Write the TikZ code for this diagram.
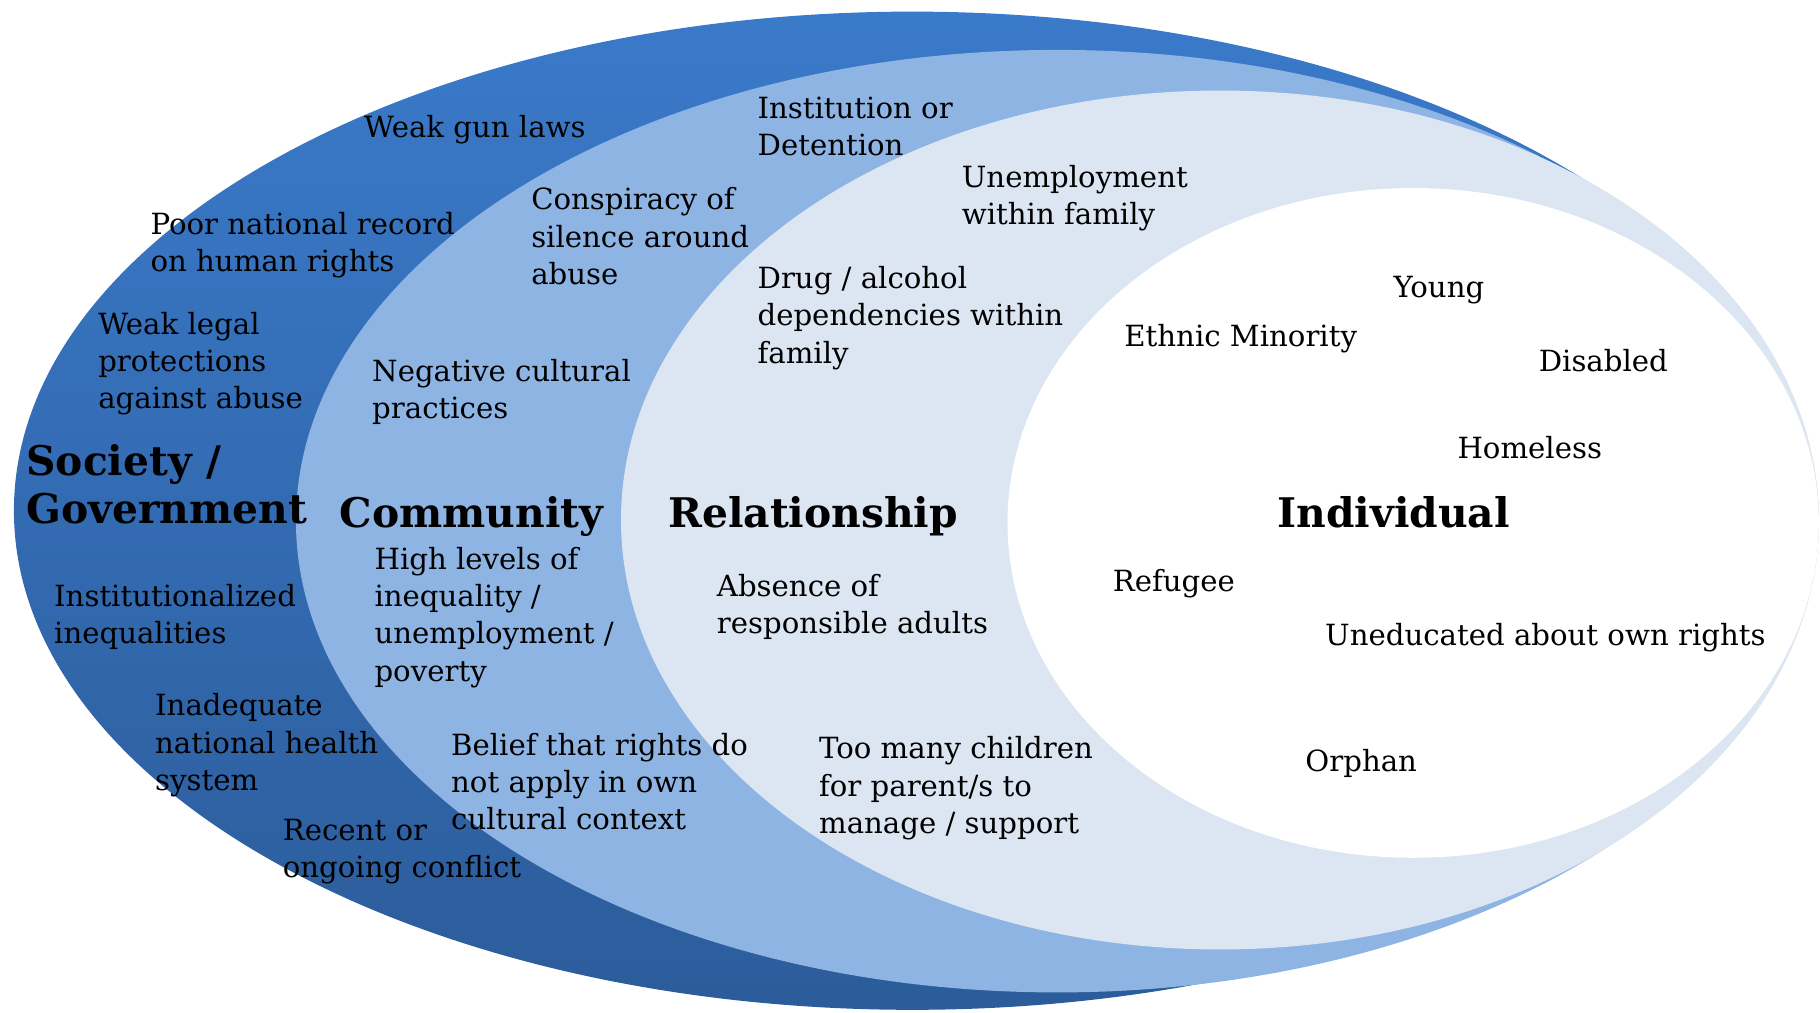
\documentclass[tikz,border=0pt]{standalone}
\usepackage{fontspec}
\setmainfont{DejaVu Serif}
\usepackage{tikz}

\definecolor{govtop}{RGB}{58,122,202}
\definecolor{govbot}{RGB}{44,92,154}
\definecolor{commblue}{RGB}{142,180,227}
\definecolor{relblue}{RGB}{220,230,242}

\tikzset{
  lbl/.style={anchor=north west, inner sep=0pt, align=left,
    font=\fontsize{7.15}{9.1}\selectfont},
  ttl/.style={anchor=north west, inner sep=0pt, align=left,
    font=\fontsize{10}{12.2}\selectfont\bfseries}
}

\begin{document}
\begin{tikzpicture}[x=0.01cm,y=-0.01cm]
\useasboundingbox (0,0) rectangle (1568,872);
\clip (0,0) rectangle (1568,872);
% the four levels
\shade[top color=govtop, bottom color=govbot] (786,440) ellipse [x radius=774, y radius=430];
\fill[commblue] (911,449) ellipse [x radius=656, y radius=406];
\fill[relblue] (1051,448) ellipse [x radius=516, y radius=370];
\fill[white] (1217.5,450.5) ellipse [x radius=349.5, y radius=288.5];
% level names
\node[ttl] (soc) at (22,382) {Society /\\[-0.4pt]Government};
\node[ttl] (com) at (292,427) {Community};
\node[ttl] (rel) at (575,427) {Relationship};
\node[ttl] (ind) at (1100,427) {Individual};
% society / government
\node[lbl] (gun) at (313,99) {Weak gun laws};
\node[lbl] (rec) at (129,182) {Poor national record\\on human rights};
\node[lbl] (leg) at (84,268) {Weak legal\\protections\\against abuse};
\node[lbl] (ineq) at (46,503) {Institutionalized\\inequalities};
\node[lbl] (hea) at (133,597) {Inadequate\\national health\\system};
\node[lbl] (con) at (243,705) {Recent or\\ongoing conflict};
% community
\node[lbl] (inst) at (652,83) {Institution or\\Detention};
\node[lbl] (sil) at (457,161) {Conspiracy of\\silence around\\abuse};
\node[lbl] (cul) at (320,309) {Negative cultural\\practices};
\node[lbl] (pov) at (322,471) {High levels of\\inequality /\\unemployment /\\poverty};
\node[lbl] (bel) at (388,631) {Belief that rights do\\not apply in own\\cultural context};
% relationship
\node[lbl] (unem) at (828,142) {Unemployment\\within family};
\node[lbl] (drug) at (652,229) {Drug / alcohol\\dependencies within\\family};
\node[lbl] (abs) at (617,494) {Absence of\\responsible adults};
\node[lbl] (many) at (705,634) {Too many children\\for parent/s to\\manage / support};
% individual
\node[lbl] (yng) at (1200,237) {Young};
\node[lbl] (eth) at (968,279) {Ethnic Minority};
\node[lbl] (dis) at (1325,300) {Disabled};
\node[lbl] (hom) at (1255,375) {Homeless};
\node[lbl] (ref) at (958,490) {Refugee};
\node[lbl] (edu) at (1141,536) {Uneducated about own rights};
\node[lbl] (orph) at (1124,645) {Orphan};
\end{tikzpicture}
\end{document}
